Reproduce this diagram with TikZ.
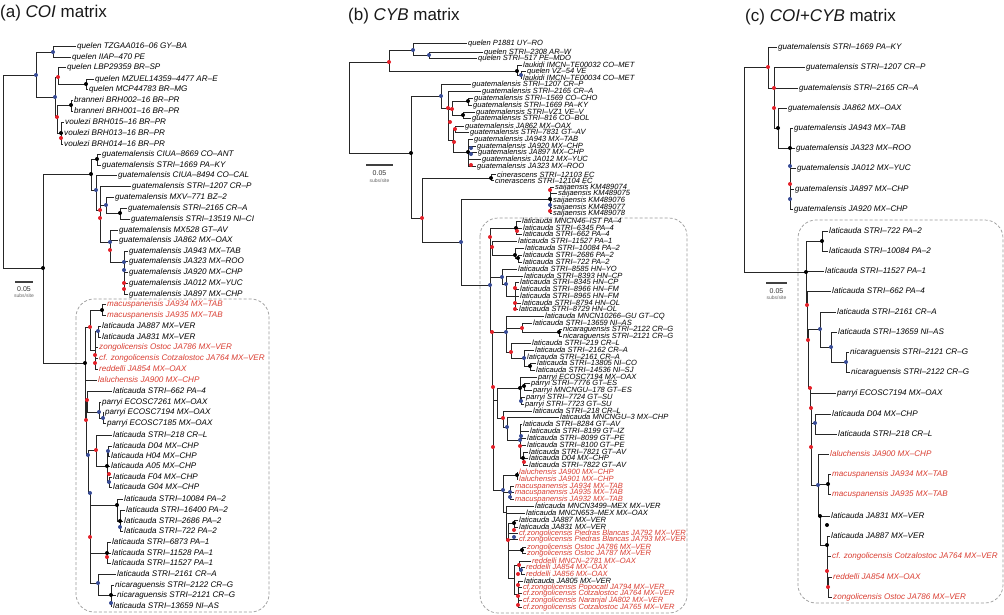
\documentclass[tikz,border=0pt]{standalone}
\usepackage{fontspec}
\setmainfont{Liberation Sans}
\definecolor{lred}{RGB}{218,62,50}
\definecolor{dotr}{RGB}{228,32,40}
\definecolor{dotb}{RGB}{55,75,150}
\newcommand\fa{\fontsize{8.1}{8.1}\selectfont\itshape}
\newcommand\fb{\fontsize{7.55}{7.55}\selectfont\itshape}
\newcommand\ftitle{\fontsize{17}{17}\selectfont}
\newcommand\lf[5][]{\node[#1] (#2) at (#3,#4) {#5};}
\newcommand\nd[3]{\coordinate (#1) at (#2,#3);}
\newcommand\kids[2]{\foreach \k in {#2}{\draw[branch] (#1) |- (\k);}}
\newcommand\dr[1]{\fill[dotr] (#1) circle (2pt);}
\newcommand\db[1]{\fill[dotb] (#1) circle (2pt);}
\newcommand\dk[1]{\fill[black] (#1) circle (2pt);}
\tikzset{
 lab/.style={anchor=west, inner xsep=1.2pt, inner ysep=0pt, text height=5.6pt, text depth=0pt, xshift=-1.2pt, text=black},
 labA/.style={lab, font=\fa},
 labB/.style={lab, font=\fb, text height=5pt},
 labC/.style={lab, font=\fa},
 redlab/.style={text=lred},
 branch/.style={draw=black!85, line width=0.9pt},
 dbox/.style={draw=black!40, dash pattern=on 3pt off 2pt, rounded corners=18pt, line width=0.7pt},
 sbar/.style={draw=black!75, line width=1.2pt},
 sbt/.style={inner sep=0pt, font=\fontsize{7}{7}\selectfont, text=black!80},
 sbs/.style={inner sep=0pt, font=\fontsize{5}{5}\selectfont, text=black!60},
 ttl/.style={anchor=base west, inner sep=0pt, font=\ftitle, text=black!90}
}
\begin{document}
\begin{tikzpicture}[x=1pt,y=-1pt]
\fill[white] (0,0) rectangle (1004,614);
\useasboundingbox (0,0) rectangle (1004,614);
% titles
\node[ttl] (ta) at (0,17) {(a) \textit{COI} matrix};
\node[ttl] (tb) at (348,20.5) {(b) \textit{CYB} matrix};
\node[ttl] (tc) at (745,21) {(c) \textit{COI+CYB} matrix};
% boxes
\draw[dbox] (76,299) rectangle (269,612);
\draw[dbox] (480,218) rectangle (687,613);
\draw[dbox] (798,220) rectangle (1003,603);
% scale bars
\coordinate (sa1) at (15,282); \coordinate (sa2) at (33,282);
\draw[sbar] (sa1) -- (sa2);
\node[sbt] (sat) at (24,289) {0.05}; \node[sbs] (sas) at (24,296) {subs/site};
\coordinate (sb1) at (366,165); \coordinate (sb2) at (393,165);
\draw[sbar] (sb1) -- (sb2);
\node[sbt] (sbt) at (379.5,173) {0.05}; \node[sbs] (sbs) at (379.5,181) {subs/site};
\coordinate (sc1) at (766,283); \coordinate (sc2) at (787,283);
\draw[sbar] (sc1) -- (sc2);
\node[sbt] (sct) at (776.5,291) {0.05}; \node[sbs] (scs) at (776.5,298) {subs/site};

% ================= panel (a) =================
\lf[labA]{a1}{77}{46}{quelen TZGAA016--06 GY--BA}
\lf[labA]{a2}{72}{57}{quelen IIAP--470 PE}
\lf[labA]{a3}{67}{67}{quelen LBP29359 BR--SP}
\lf[labA]{a4}{95}{79}{quelen MZUEL14359--4477 AR--E}
\lf[labA]{a5}{89}{89}{quelen MCP44783 BR--MG}
\lf[labA]{a6}{74}{100}{branneri BRH002--16 BR--PR}
\lf[labA]{a7}{74}{111}{branneri BRH001--16 BR--PR}
\lf[labA]{a8}{65}{122}{voulezi BRH015--16 BR--PR}
\lf[labA]{a9}{64}{133}{voulezi BRH013--16 BR--PR}
\lf[labA]{a10}{64}{144}{voulezi BRH014--16 BR--PR}
\lf[labA]{a11}{102}{154}{guatemalensis CIUA--8669 CO--ANT}
\lf[labA]{a12}{102}{165}{guatemalensis STRI--1669 PA--KY}
\lf[labA]{a13}{118}{175}{guatemalensis CIUA--8494 CO--CAL}
\lf[labA]{a14}{132}{186}{guatemalensis STRI--1207 CR--P}
\lf[labA]{a15}{115}{197}{guatemalensis MXV--771 BZ--2}
\lf[labA]{a16}{128}{208}{guatemalensis STRI--2165 CR--A}
\lf[labA]{a17}{131}{219}{guatemalensis STRI--13519 NI--CI}
\lf[labA]{a18}{119}{230}{guatemalensis MX528 GT--AV}
\lf[labA]{a19}{119}{240}{guatemalensis JA862 MX--OAX}
\lf[labA]{a20}{129}{251}{guatemalensis JA943 MX--TAB}
\lf[labA]{a21}{129}{261}{guatemalensis JA323 MX--ROO}
\lf[labA]{a22}{129}{272}{guatemalensis JA920 MX--CHP}
\lf[labA]{a23}{129}{283}{guatemalensis JA012 MX--YUC}
\lf[labA]{a24}{129}{294}{guatemalensis JA897 MX--CHP}
\lf[labA,redlab]{a25}{107}{304}{macuspanensis JA934 MX--TAB}
\lf[labA,redlab]{a26}{107}{315}{macuspanensis JA935 MX--TAB}
\lf[labA]{a27}{102}{326}{laticauda JA887 MX--VER}
\lf[labA]{a28}{102}{337}{laticauda JA831 MX--VER}
\lf[labA,redlab]{a29}{99}{347}{zongolicensis Ostoc JA786 MX--VER}
\lf[labA,redlab]{a30}{99}{358}{cf. zongolicensis Cotzalostoc JA764 MX--VER}
\lf[labA,redlab]{a31}{99}{369}{reddelli JA854 MX--OAX}
\lf[labA,redlab]{a32}{98}{380}{laluchensis JA900 MX--CHP}
\lf[labA]{a33}{113}{391}{laticauda STRI--662 PA--4}
\lf[labA]{a34}{102}{402}{parryi ECOSC7261 MX--OAX}
\lf[labA]{a35}{105}{412}{parryi ECOSC7194 MX--OAX}
\lf[labA]{a36}{107}{423}{parryi ECOSC7185 MX--OAX}
\lf[labA]{a37}{113}{435}{laticauda STRI--218 CR--L}
\lf[labA]{a38}{113}{446}{laticauda D04 MX--CHP}
\lf[labA]{a39}{111}{456}{laticauda H04 MX--CHP}
\lf[labA]{a40}{111}{466}{laticauda A05 MX--CHP}
\lf[labA]{a41}{113}{477}{laticauda F04 MX--CHP}
\lf[labA]{a42}{113}{487}{laticauda G04 MX--CHP}
\lf[labA]{a43}{124}{499}{laticauda STRI--10084 PA--2}
\lf[labA]{a44}{126}{510}{laticauda STRI--16400 PA--2}
\lf[labA]{a45}{124}{521}{laticauda STRI--2686 PA--2}
\lf[labA]{a46}{124}{531}{laticauda STRI--722 PA--2}
\lf[labA]{a47}{112}{542}{laticauda STRI--6873 PA--1}
\lf[labA]{a48}{112}{553}{laticauda STRI--11528 PA--1}
\lf[labA]{a49}{112}{563}{laticauda STRI--11527 PA--1}
\lf[labA]{a50}{117}{574}{laticauda STRI--2161 CR--A}
\lf[labA]{a51}{115}{585}{nicaraguensis STRI--2122 CR--G}
\lf[labA]{a52}{117}{595}{nicaraguensis STRI--2121 CR--G}
\lf[labA]{a53}{113}{606}{laticauda STRI--13659 NI--AS}
\nd{aR}{3}{170} \nd{aQ}{36}{75} \nd{aQ1}{53}{52} \nd{aQ2}{55}{97}
\nd{aQ3}{58}{77} \nd{aQ5}{86}{84} \nd{aQ4}{57}{117} \nd{aB}{71}{105} \nd{aV}{61}{133}
\nd{aM}{43}{268} \nd{aG}{91}{174} \nd{aG1}{97}{159} \nd{aG2}{96}{190} \nd{aG3}{100}{210}
\nd{aG5}{106}{205} \nd{aG6}{120}{213} \nd{aG7}{110}{242} \nd{aG9}{124}{262}
\nd{aL}{85}{363} \nd{aA}{90}{327} \nd{aMac}{102}{310} \nd{aA2}{95}{350} \nd{aLt}{98}{331}
\nd{aBs}{86}{420} \nd{aS1}{87}{400} \nd{aPar}{99}{412} \nd{aPar2}{103}{418}
\nd{aC}{88}{455} \nd{aD}{96}{450} \nd{aD1}{107}{466} \nd{aD2}{108}{451} \nd{aD3}{109}{482}
\nd{aE}{90}{493} \nd{aP2}{117}{505} \nd{aP2b}{120}{521} \nd{aF}{90}{537} \nd{aP1}{107}{553}
\nd{aN}{98}{583} \nd{aN2}{111}{595}
\kids{aR}{aQ,aM} \kids{aQ}{aQ1,aQ2} \kids{aQ1}{a1,a2} \kids{aQ2}{aQ3,aQ4}
\kids{aQ3}{a3,aQ5} \kids{aQ5}{a4,a5} \kids{aQ4}{aB,aV} \kids{aB}{a6,a7} \kids{aV}{a8,a9,a10}
\kids{aM}{aG,aL} \kids{aG}{aG1,aG2} \kids{aG1}{a11,a12} \kids{aG2}{a13,aG3}
\kids{aG3}{a14,aG5,aG7} \kids{aG5}{a15,aG6} \kids{aG6}{a16,a17} \kids{aG7}{a18,a19,aG9}
\kids{aG9}{a20,a21,a22,a23,a24}
\kids{aL}{aA,a32,aBs} \kids{aA}{aMac,aA2} \kids{aMac}{a25,a26} \kids{aA2}{aLt,a29,a30,a31}
\kids{aLt}{a27,a28} \kids{aBs}{aS1,aC} \kids{aS1}{a33,aPar} \kids{aPar}{a34,aPar2}
\kids{aPar2}{a35,a36} \kids{aC}{aD,aE} \kids{aD}{a37,aD1} \kids{aD1}{aD2,a40,aD3}
\kids{aD2}{a38,a39} \kids{aD3}{a41,a42} \kids{aE}{aP2,aF} \kids{aP2}{a43,aP2b}
\kids{aP2b}{a44,a45,a46} \kids{aF}{aP1,aN} \kids{aP1}{a47,a48,a49} \kids{aN}{a50,aN2}
\kids{aN2}{a51,a52,a53}
\db{aQ1} \db{aQ} \db{aQ2} \dr{aQ3} \dr{aQ4} \dk{aQ5} \dk{aB} \dk{aV} \dr{61,138}
\dk{aM} \dk{aG} \dk{aG1} \db{aG2} \dr{aG3} \dr{100,218} \db{aG5} \dk{aG6} \db{aG7} \dr{110,250}
\db{aG9} \db{124,270} \dr{124,283} \dr{124,289}
\dk{aL} \dr{aA} \dk{aMac} \db{aLt} \dr{95,355} \dr{95,363}
\dr{aBs} \dr{aS1} \db{aPar} \db{aPar2} \db{aC} \dr{aD} \db{aD2} \dk{aD1} \db{aD3} \dr{109,474}
\db{aE} \dk{aP2} \dk{aP2b} \db{120,527} \dr{aF} \dk{aP1} \dr{107,557} \db{aN} \dk{aN2} \db{111,603}

% ================= panel (b) =================
\lf[labB]{b1}{468}{43}{quelen P1881 UY--RO}
\lf[labB]{b2}{484}{52}{quelen STRI--2308 AR--W}
\lf[labB]{b3}{478}{58}{quelen STRI--517 PE--MDO}
\lf[labB]{b4}{523}{65}{laukidi IMCN--TE00032 CO--MET}
\lf[labB]{b5}{527}{71}{quelen VZ--54 VE}
\lf[labB]{b6}{523}{78}{laukidi IMCN--TE00034 CO--MET}
\lf[labB]{b7}{472}{84}{guatemalensis STRI--1207 CR--P}
\lf[labB]{b8}{482}{91}{guatemalensis STRI--2165 CR--A}
\lf[labB]{b9}{474}{98}{guatemalensis STRI--1569 CO--CHO}
\lf[labB]{b10}{473}{105}{guatemalensis STRI--1669 PA--KY}
\lf[labB]{b11}{476}{112}{guatemalensis STRI--VZ1 VE--V}
\lf[labB]{b12}{472}{118}{guatemalensis STRI--816 CO--BOL}
\lf[labB]{b13}{465}{126}{guatemalensis JA862 MX--OAX}
\lf[labB]{b14}{470}{132}{guatemalensis STRI--7831 GT--AV}
\lf[labB]{b15}{474}{139}{guatemalensis JA943 MX--TAB}
\lf[labB]{b16}{477}{146}{guatemalensis JA920 MX--CHP}
\lf[labB]{b17}{478}{152}{guatemalensis JA897 MX--CHP}
\lf[labB]{b18}{482}{159}{guatemalensis JA012 MX--YUC}
\lf[labB]{b19}{477}{166}{guatemalensis JA323 MX--ROO}
\lf[labB]{b20}{497}{174.5}{cinerascens STRI--12103 EC}
\lf[labB]{b21}{495}{180.5}{cinerascens STRI--12104 EC}
\lf[labB]{b22}{555}{187}{saijaensis KM489074}
\lf[labB]{b23}{558}{193}{saijaensis KM489075}
\lf[labB]{b24}{553}{200}{saijaensis KM489076}
\lf[labB]{b25}{553}{207}{saijaensis KM489077}
\lf[labB]{b26}{553}{213}{saijaensis KM489078}
\lf[labB]{b27}{522}{221}{laticauda MNCN46--IST PA--4}
\lf[labB]{b28}{523}{228}{laticauda STRI--6345 PA--4}
\lf[labB]{b29}{523}{234}{laticauda STRI--662 PA--4}
\lf[labB]{b30}{518}{241}{laticauda STRI--11527 PA--1}
\lf[labB]{b31}{525}{248}{laticauda STRI--10084 PA--2}
\lf[labB]{b32}{523}{255}{laticauda STRI--2686 PA--2}
\lf[labB]{b33}{523}{262}{laticauda STRI--722 PA--2}
\lf[labB]{b34}{518}{269}{laticauda STRI--8585 HN--YO}
\lf[labB]{b35}{524}{276}{laticauda STRI--8393 HN--CP}
\lf[labB]{b36}{520}{282}{laticauda STRI--8345 HN--CP}
\lf[labB]{b37}{520}{289}{laticauda STRI--8966 HN--FM}
\lf[labB]{b38}{520}{296}{laticauda STRI--8965 HN--FM}
\lf[labB]{b39}{522}{303}{laticauda STRI--8794 HN--OL}
\lf[labB]{b40}{519}{309}{laticauda STRI--8729 HN--OL}
\lf[labB]{b41}{545}{316}{laticauda MNCN10266--GU GT--CQ}
\lf[labB]{b42}{533}{323}{laticauda STRI--13659 NI--AS}
\lf[labB]{b43}{563}{329}{nicaraguensis STRI--2122 CR--G}
\lf[labB]{b44}{563}{336}{nicaraguensis STRI--2121 CR--G}
\lf[labB]{b45}{532}{343}{laticauda STRI--219 CR--L}
\lf[labB]{b46}{535}{350}{laticauda STRI--2162 CR--A}
\lf[labB]{b47}{527}{357}{laticauda STRI--2161 CR--A}
\lf[labB]{b48}{537}{363}{laticauda STRI--13805 NI--CO}
\lf[labB]{b49}{536}{370}{laticauda STRI--14536 NI--SJ}
\lf[labB]{b50}{538}{377}{parryi ECOSC7194 MX--OAX}
\lf[labB]{b51}{531}{383}{parryi STRI--7776 GT--ES}
\lf[labB]{b52}{533}{390}{parryi MNCNGU--178 GT--ES}
\lf[labB]{b53}{526}{397}{parryi STRI--7724 GT--SU}
\lf[labB]{b54}{525}{404}{parryi STRI--7723 GT--SU}
\lf[labB]{b55}{533}{411}{laticauda STRI--218 CR--L}
\lf[labB]{b56}{560}{417}{laticauda MNCNGU--3 MX--CHP}
\lf[labB]{b57}{523}{424}{laticauda STRI--8284 GT--AV}
\lf[labB]{b58}{530}{431}{laticauda STRI--8199 GT--IZ}
\lf[labB]{b59}{527}{438}{laticauda STRI--8099 GT--PE}
\lf[labB]{b60}{527}{445}{laticauda STRI--8100 GT--PE}
\lf[labB]{b61}{529}{452}{laticauda STRI--7821 GT--AV}
\lf[labB]{b62}{529}{458}{laticauda D04 MX--CHP}
\lf[labB]{b63}{529}{465}{laticauda STRI--7822 GT--AV}
\lf[labB,redlab]{b64}{519}{472}{laluchensis JA900 MX--CHP}
\lf[labB,redlab]{b65}{519}{479}{laluchensis JA901 MX--CHP}
\lf[labB,redlab]{b66}{515}{486}{macuspanensis JA934 MX--TAB}
\lf[labB,redlab]{b67}{515}{492}{macuspanensis JA935 MX--TAB}
\lf[labB,redlab]{b68}{515}{499}{macuspanensis JA932 MX--TAB}
\lf[labB]{b69}{535}{506}{laticauda MNCN3499--MEX MX--VER}
\lf[labB]{b70}{526}{513}{laticauda MNCN653--MEX MX--OAX}
\lf[labB]{b71}{519}{520}{laticauda JA887 MX--VER}
\lf[labB]{b72}{519}{527}{laticauda JA831 MX--VER}
\lf[labB,redlab]{b73}{519}{533}{cf.zongolicensis Piedras Blancas JA792 MX--VER}
\lf[labB,redlab]{b74}{519}{539}{cf.zongolicensis Piedras Blancas JA793 MX--VER}
\lf[labB,redlab]{b75}{527}{547}{zongolicensis Ostoc JA786 MX--VER}
\lf[labB,redlab]{b76}{527}{553}{zongolicensis Ostoc JA787 MX--VER}
\lf[labB,redlab]{b77}{532}{561}{reddelli MNCN--2781 MX--OAX}
\lf[labB,redlab]{b78}{526}{567}{reddelli JA854 MX--OAX}
\lf[labB,redlab]{b79}{526}{574}{reddelli JA856 MX--OAX}
\lf[labB]{b80}{524}{581}{laticauda JA805 MX--VER}
\lf[labB,redlab]{b81}{523}{587}{cf.zongolicensis Popocatl JA794 MX--VER}
\lf[labB,redlab]{b82}{523}{593}{cf.zongolicensis Cotzalostoc JA764 MX--VER}
\lf[labB,redlab]{b83}{523}{600}{cf.zongolicensis Naranjal JA802 MX--VER}
\lf[labB,redlab]{b84}{523}{607}{cf.zongolicensis Cotzalostoc JA765 MX--VER}
\nd{bR}{349}{108} \nd{bQ}{389}{62} \nd{bQ1}{413}{50} \nd{bQ2}{429}{55}
\nd{bLk}{517}{71} \nd{bLk2}{521}{75}
\nd{bM}{411}{153} \nd{bG}{441}{96} \nd{bG2}{448}{108} \nd{bG3}{452}{109}
\nd{bCho}{468}{101} \nd{bVz}{463}{115} \nd{bG4}{453}{140} \nd{bG4a}{455}{129} \nd{bG5}{468}{152}
\nd{bC}{422}{218} \nd{bCin}{491}{178} \nd{bX}{461}{242} \nd{bSai}{550}{199}
\nd{bLat}{490}{285} \nd{bLat1}{490}{237} \nd{bP4a}{516}{228} \nd{bPa}{492}{247}
\nd{bP2}{515}{255} \nd{bP2b}{518}{258}
\nd{bH}{502}{277} \nd{bH2}{506}{284} \nd{bH3}{515}{296}
\nd{bS2}{492}{332} \nd{bK}{506}{332} \nd{bNi}{522}{328} \nd{bNi2}{559}{332}
\nd{bK2}{511}{352} \nd{bK3}{524}{358} \nd{bK4}{530}{366}
\nd{bS3}{493}{387} \nd{bSp5}{497}{400} \nd{bPr}{520}{388} \nd{bPr2}{524}{386} \nd{bPr3}{521}{401}
\nd{bLq}{503}{418} \nd{bLq2}{507}{427} \nd{bGt}{520}{440} \nd{bGt2}{523}{458}
\nd{bY}{503}{490} \nd{bLal}{517}{475} \nd{bMc}{510}{492} \nd{bZ0}{506}{512}
\nd{bZ}{508}{540} \nd{bJA}{514}{523} \nd{bOs}{522}{550} \nd{bZb}{514}{578}
\nd{bRd}{519}{565} \nd{bRd2}{521}{570} \nd{bZc}{518}{594}
\kids{bR}{bQ,bM} \kids{bQ}{bQ1,bLk} \kids{bQ1}{b1,bQ2} \kids{bQ2}{b2,b3}
\kids{bLk}{b4,bLk2} \kids{bLk2}{b5,b6}
\kids{bM}{bG,bC} \kids{bG}{b7,bG2} \kids{bG2}{b8,bG3,bG4} \kids{bG3}{bCho,bVz}
\kids{bCho}{b9,b10} \kids{bVz}{b11,b12} \kids{bG4}{bG4a,bG5} \kids{bG4a}{b13,b14}
\kids{bG5}{b15,b16,b17,b18,b19}
\kids{bC}{bCin,bX} \kids{bCin}{b20,b21} \kids{bX}{bSai,bLat} \kids{bSai}{b22,b23,b24,b25,b26}
\kids{bLat}{bLat1,bH,bS2} \kids{bLat1}{bP4a,bPa} \kids{bP4a}{b27,b28,b29}
\kids{bPa}{b30,bP2} \kids{bP2}{b31,bP2b} \kids{bP2b}{b32,b33}
\kids{bH}{b34,bH2} \kids{bH2}{b35,bH3} \kids{bH3}{b36,b37,b38,b39,b40}
\kids{bS2}{bK,bS3} \kids{bK}{b41,bNi,bK2} \kids{bNi}{b42,bNi2} \kids{bNi2}{b43,b44}
\kids{bK2}{b45,bK3} \kids{bK3}{b46,b47,bK4} \kids{bK4}{b48,b49}
\kids{bS3}{bSp5,bY} \kids{bSp5}{bPr,bLq} \kids{bPr}{b50,bPr2,bPr3} \kids{bPr2}{b51,b52}
\kids{bPr3}{b53,b54} \kids{bLq}{b55,bLq2} \kids{bLq2}{b56,bGt} \kids{bGt}{b57,b58,b59,b60,bGt2}
\kids{bGt2}{b61,b62,b63}
\kids{bY}{bLal,bMc,bZ0} \kids{bLal}{b64,b65} \kids{bMc}{b66,b67,b68} \kids{bZ0}{b69,b70,bZ}
\kids{bZ}{bJA,b73,b74,bOs,bZb} \kids{bJA}{b71,b72} \kids{bOs}{b75,b76} \kids{bZb}{bRd,bZc}
\kids{bRd}{b77,bRd2} \kids{bRd2}{b78,b79} \kids{bZc}{b80,b81,b82,b83,b84}
\dr{bQ} \db{bQ1} \db{bQ2} \dk{bLk} \db{bLk2} \dk{bM} \db{bG} \dr{bG2} \dr{bG3} \dk{bCho} \dk{bVz}
\dr{450,122} \dr{bG4a} \dr{454,142} \dk{bG5} \db{471,148} \db{471,154} \dr{471,165}
\dr{bC} \dk{bCin} \db{bX} \dk{bSai} \dr{550,190} \db{550,205} \dr{550,211}
\dr{bLat1} \dr{bPa} \dk{bP4a} \dr{517,231} \dk{bP2} \dk{bP2b} \db{bLat} \db{bH} \db{bH2}
\dr{515,288} \dr{515,303} \dr{515,309}
\dr{bS2} \db{bK} \dr{bNi} \dk{bNi2} \dr{bK2} \db{bK3} \dk{bK4}
\dr{bS3} \dk{bPr} \dk{bPr2} \db{bPr3} \dr{bLq} \db{bLq2} \db{bGt} \db{521,436} \dr{520,446}
\dk{bGt2} \dr{524,462} \dr{493,447}
\db{bY} \dk{bLal} \db{bMc} \db{510,497} \dr{bZ} \dk{bJA} \dr{514,530} \db{514,537}
\dk{bOs} \dr{bRd} \db{bRd2} \dr{518,574} \dr{518,585} \dr{518,596} \dr{518,605}

% ================= panel (c) =================
\lf[labC]{c1}{778}{47}{guatemalensis STRI--1669 PA--KY}
\lf[labC]{c2}{806}{67}{guatemalensis STRI--1207 CR--P}
\lf[labC]{c3}{799}{88}{guatemalensis STRI--2165 CR--A}
\lf[labC]{c4}{788}{108}{guatemalensis JA862 MX--OAX}
\lf[labC]{c5}{794}{128}{guatemalensis JA943 MX--TAB}
\lf[labC]{c6}{796}{148}{guatemalensis JA323 MX--ROO}
\lf[labC]{c7}{797}{168}{guatemalensis JA012 MX--YUC}
\lf[labC]{c8}{795}{189}{guatemalensis JA897 MX--CHP}
\lf[labC]{c9}{794}{209}{guatemalensis JA920 MX--CHP}
\lf[labC]{c10}{829}{231}{laticauda STRI--722 PA--2}
\lf[labC]{c11}{829}{251}{laticauda STRI--10084 PA--2}
\lf[labC]{c12}{825}{271}{laticauda STRI--11527 PA--1}
\lf[labC]{c13}{832}{291}{laticauda STRI--662 PA--4}
\lf[labC]{c14}{837}{312}{laticauda STRI--2161 CR--A}
\lf[labC]{c15}{838}{332}{laticauda STRI--13659 NI--AS}
\lf[labC]{c16}{850}{352}{nicaraguensis STRI--2121 CR--G}
\lf[labC]{c17}{851}{372}{nicaraguensis STRI--2122 CR--G}
\lf[labC]{c18}{837}{393}{parryi ECOSC7194 MX--OAX}
\lf[labC]{c19}{832}{414}{laticauda D04 MX--CHP}
\lf[labC]{c20}{838}{434}{laticauda STRI--218 CR--L}
\lf[labC,redlab]{c21}{830}{454}{laluchensis JA900 MX--CHP}
\lf[labC,redlab]{c22}{832}{474}{macuspanensis JA934 MX--TAB}
\lf[labC,redlab]{c23}{832}{494}{macuspanensis JA935 MX--TAB}
\lf[labC]{c24}{831}{516}{laticauda JA831 MX--VER}
\lf[labC]{c25}{831}{536}{laticauda JA887 MX--VER}
\lf[labC,redlab]{c26}{832}{556}{cf. zongolicensis Cotzalostoc JA764 MX--VER}
\lf[labC,redlab]{c27}{833}{577}{reddelli JA854 MX--OAX}
\lf[labC,redlab]{c28}{833}{597}{zongolicensis Ostoc JA786 MX--VER}
\nd{cR}{744}{170} \nd{cG1}{768}{67} \nd{cG2}{774}{88} \nd{cG3}{778}{128} \nd{cG4}{790}{148}
\nd{cL0}{806}{272} \nd{cP}{822}{241} \nd{cL1}{807}{305} \nd{cL2}{808}{340}
\nd{cN}{820}{329} \nd{cN2}{831}{347} \nd{cN3}{846}{362} \nd{cL3}{810}{388} \nd{cL4}{811}{408}
\nd{cD}{815}{423} \nd{cM}{818}{485} \nd{cMac}{828}{484} \nd{cQ}{820}{516} \nd{cR2}{827}{545}
\nd{cS}{828}{587}
\kids{cR}{cG1,cL0} \kids{cG1}{c1,cG2} \kids{cG2}{c2,c3,cG3} \kids{cG3}{c4,cG4}
\kids{cG4}{c5,c6,c7,c8,c9}
\kids{cL0}{cP,c12,cL1} \kids{cP}{c10,c11} \kids{cL1}{c13,cL2} \kids{cL2}{cN,cL3}
\kids{cN}{c14,cN2} \kids{cN2}{c15,cN3} \kids{cN3}{c16,c17} \kids{cL3}{c18,cL4}
\kids{cL4}{cD,cM} \kids{cD}{c19,c20} \kids{cM}{c21,cMac,cQ} \kids{cMac}{c22,c23}
\kids{cQ}{c24,cR2} \kids{cR2}{c25,c26,cS} \kids{cS}{c27,c28}
\dr{cG1} \dr{cG2} \dr{774,108} \dk{cG3} \dk{cG4} \db{790,166} \dr{790,184} \db{790,199}
\dk{cL0} \dk{cP} \dr{cL1} \dr{cL2} \db{cN} \db{cN2} \db{cN3} \dr{cL3} \dr{cL4} \db{cD}
\dr{811,447} \db{cM} \dk{cMac} \dk{cQ} \dk{827,525} \dk{cR2} \dr{827,571} \dr{cS}
\end{tikzpicture}
\end{document}
